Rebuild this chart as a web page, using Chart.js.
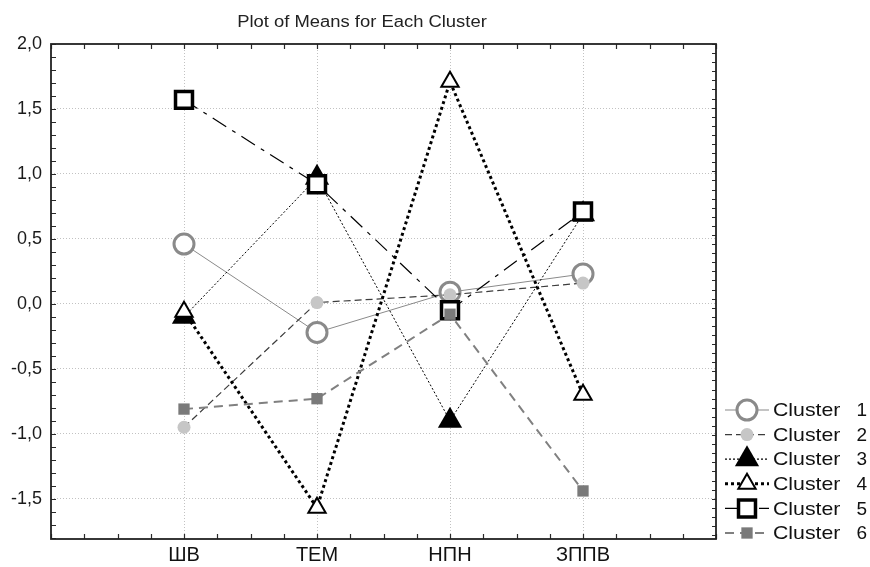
<!DOCTYPE html>
<html>
<head>
<meta charset="utf-8">
<title>Plot of Means for Each Cluster</title>
<script src="https://cdn.jsdelivr.net/npm/chart.js@4.4.1/dist/chart.umd.min.js"></script>
<style>
  html, body { margin: 0; padding: 0; background: #ffffff; }
  #wrap { width: 870px; height: 567px; }
</style>
</head>
<body>
<div id="wrap"><canvas id="chart" width="870" height="567"></canvas></div>
<script>
// Variables on the horizontal axis
const categories = ['ШВ', 'ТЕМ', 'НПН', 'ЗППВ'];

// Cluster means per variable
const cluster1 = [0.46, -0.22, 0.09, 0.23];
const cluster2 = [-0.95, 0.01, 0.07, 0.16];
const cluster3 = [-0.10, 0.97, -0.90, 0.69];
const cluster4 = [-0.06, -1.57, 1.71, -0.70];
const cluster5 = [1.57, 0.92, -0.05, 0.71];
const cluster6 = [-0.81, -0.73, -0.08, -1.44];

const seriesNames = ['Cluster 1', 'Cluster 2', 'Cluster 3', 'Cluster 4', 'Cluster 5', 'Cluster 6'];
const seriesValues = [cluster1, cluster2, cluster3, cluster4, cluster5, cluster6];

// Value axis range and tick step
const yMin = -1.81;
const yMax = 2.0;
const yStep = 0.5;

// Line and marker look of each cluster
const seriesStyles = [
  { line: '#8a8a8a', width: 1,   dash: [],             shape: 'circle',   r: 10, fill: '#ffffff', edge: '#8a8a8a', edgeW: 3 },
  { line: '#3c3c3c', width: 1.2, dash: [7, 4],         shape: 'circle',   r: 6.5, fill: '#c6c6c6', edge: '#c6c6c6', edgeW: 0 },
  { line: '#000000', width: 1,   dash: [2, 2],         shape: 'triangle', r: 14, fill: '#000000', edge: '#000000', edgeW: 0 },
  { line: '#000000', width: 3,   dash: [3, 3],         shape: 'triangle', r: 10, fill: '#ffffff', edge: '#000000', edgeW: 2 },
  { line: '#000000', width: 1.2, dash: [16, 7, 4, 7],  shape: 'rect',     r: 12, fill: '#ffffff', edge: '#000000', edgeW: 3.5 },
  { line: '#808080', width: 2,   dash: [9, 6],         shape: 'rect',     r: 8,  fill: '#7a7a7a', edge: '#7a7a7a', edgeW: 0 }
];

const FONT = '"Liberation Sans", Arial, Helvetica, sans-serif';

const datasets = seriesValues.map((vals, i) => {
  const s = seriesStyles[i];
  return {
    label: seriesNames[i],
    data: vals.map((v, k) => ({ x: k + 1, y: v })),
    borderColor: s.line,
    borderWidth: s.width,
    borderDash: s.dash,
    fill: false,
    tension: 0,
    pointStyle: s.shape,
    pointRadius: s.r,
    pointHoverRadius: s.r,
    pointBackgroundColor: s.fill,
    pointBorderColor: s.edge,
    pointBorderWidth: s.edgeW,
    order: seriesValues.length - i
  };
});

function fmt(v) {
  if (Math.abs(v) < 1e-9) v = 0;
  return v.toFixed(1).replace('.', ',');
}

// Marker drawing used by the legend
function drawMarker(ctx, s, x, y) {
  ctx.save();
  ctx.fillStyle = s.fill;
  ctx.strokeStyle = s.edge;
  ctx.lineWidth = s.edgeW;
  ctx.setLineDash([]);
  if (Chart.helpers && Chart.helpers.drawPoint) {
    Chart.helpers.drawPoint(ctx, { pointStyle: s.shape, radius: s.r, rotation: 0, borderWidth: s.edgeW }, x, y);
  }
  ctx.restore();
}

// Frame, inward tick marks, title and legend
const decorations = {
  id: 'decorations',
  afterDraw(chart) {
    const ctx = chart.ctx;
    const a = chart.chartArea;
    const xs = chart.scales.x;
    const ys = chart.scales.y;

    ctx.save();
    ctx.strokeStyle = '#2a2a2a';
    ctx.lineWidth = 1.2;
    ctx.setLineDash([]);
    ctx.beginPath();
    // left: every 0.1
    for (let k = 0; yMax - k * 0.1 >= yMin - 1e-9; k++) {
      const py = Math.round(ys.getPixelForValue(yMax - k * 0.1)) + 0.5;
      ctx.moveTo(a.left, py); ctx.lineTo(a.left + 5, py);
    }
    // right: finer ticks
    for (let k = 0; yMax - k * 0.07 >= yMin - 1e-9; k++) {
      const py = Math.round(ys.getPixelForValue(yMax - k * 0.07)) + 0.5;
      ctx.moveTo(a.right - 4, py); ctx.lineTo(a.right, py);
    }
    // top and bottom: every quarter category
    for (let k = 0; k <= 20; k++) {
      const px = Math.round(xs.getPixelForValue(k * 0.25)) + 0.5;
      ctx.moveTo(px, a.bottom); ctx.lineTo(px, a.bottom - 5);
      ctx.moveTo(px, a.top); ctx.lineTo(px, a.top + 5);
    }
    ctx.stroke();

    ctx.lineWidth = 1.8;
    ctx.strokeStyle = '#222222';
    ctx.strokeRect(a.left, a.top, a.right - a.left, a.bottom - a.top);
    ctx.restore();

    // title
    ctx.save();
    ctx.fillStyle = '#222222';
    ctx.font = '16px ' + FONT;
    ctx.textAlign = 'center';
    ctx.textBaseline = 'middle';
    ctx.translate(362, 23);
    ctx.scale(1.15, 1);
    ctx.fillText('Plot of Means for Each Cluster', 0, 0);
    ctx.restore();

    // legend
    chart.data.datasets.forEach((ds, i) => {
      const s = seriesStyles[i];
      const y = 410 + i * 24.6;
      ctx.save();
      ctx.strokeStyle = s.line;
      ctx.lineWidth = Math.max(s.width, 1.2);
      ctx.setLineDash(s.dash);
      ctx.beginPath();
      ctx.moveTo(725, y); ctx.lineTo(769, y);
      ctx.stroke();
      ctx.restore();
      drawMarker(ctx, s, 747, y);

      const parts = ds.label.split(' ');
      ctx.save();
      ctx.fillStyle = '#111111';
      ctx.font = '19px ' + FONT;
      ctx.textBaseline = 'middle';
      ctx.textAlign = 'left';
      ctx.translate(773, y + 1);
      ctx.scale(1.12, 1);
      ctx.fillText(parts[0], 0, 0);
      ctx.restore();
      ctx.save();
      ctx.fillStyle = '#111111';
      ctx.font = '19px ' + FONT;
      ctx.textBaseline = 'middle';
      ctx.textAlign = 'right';
      ctx.fillText(parts[1], 867, y + 1);
      ctx.restore();
    });
  }
};

new Chart(document.getElementById('chart'), {
  type: 'line',
  data: { datasets },
  plugins: [decorations],
  options: {
    responsive: false,
    animation: false,
    devicePixelRatio: 1,
    layout: { padding: { top: 44, right: 154, bottom: 0, left: 0 } },
    plugins: {
      legend: { display: false },
      tooltip: { enabled: false },
      title: { display: false }
    },
    scales: {
      x: {
        type: 'linear',
        min: 0,
        max: categories.length + 1,
        afterFit(scale) { scale.height = 28; },
        ticks: {
          stepSize: 1,
          autoSkip: false,
          maxRotation: 0,
          padding: 4,
          color: '#111111',
          font: { family: FONT, size: 20 },
          callback: (v) => categories[v - 1] || ''
        },
        grid: {
          drawTicks: false,
          lineWidth: 1,
          color: (c) => (c.tick && (c.tick.value <= 0 || c.tick.value >= categories.length + 1)) ? 'rgba(0,0,0,0)' : '#c2c2c2'
        },
        border: { display: false, dash: [1, 2] }
      },
      y: {
        type: 'linear',
        min: yMin,
        max: yMax,
        afterFit(scale) { scale.width = 51; },
        ticks: {
          stepSize: yStep,
          includeBounds: false,
          padding: 9,
          color: '#1a1a1a',
          font: { family: FONT, size: 18 },
          callback: (v) => fmt(v)
        },
        grid: {
          drawTicks: false,
          lineWidth: 1,
          color: (c) => (c.tick && c.tick.value >= yMax - 1e-9) ? 'rgba(0,0,0,0)' : '#c2c2c2'
        },
        border: { display: false, dash: [1, 2] }
      }
    }
  }
});
</script>
</body>
</html>
